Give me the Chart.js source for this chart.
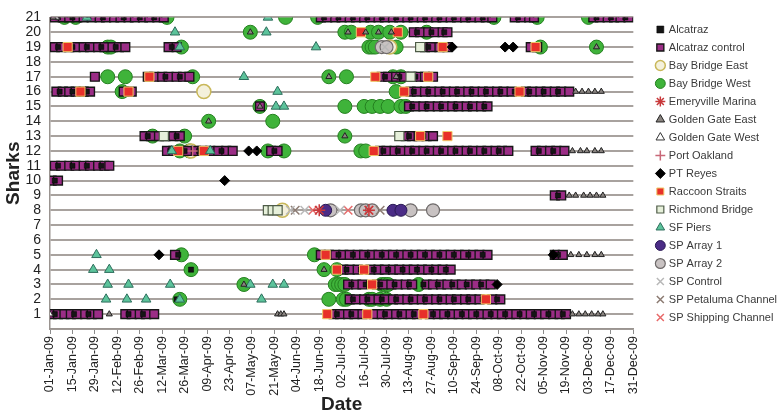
<!DOCTYPE html>
<html><head><meta charset="utf-8">
<script src="https://cdn.jsdelivr.net/npm/chart.js@4/dist/chart.umd.min.js"></script>
<style>html,body{margin:0;padding:0;background:#fff}#wrap{width:784px;height:414px}</style>
</head><body><div id="wrap"><canvas id="c"></canvas></div>
<script>
// Tick labels (x axis every 14 days starting 01-Jan-09 = day 0)
const tickDates = ['01-Jan-09','15-Jan-09','29-Jan-09','12-Feb-09','26-Feb-09','12-Mar-09','26-Mar-09','09-Apr-09','23-Apr-09','07-May-09','21-May-09','04-Jun-09','18-Jun-09','02-Jul-09','16-Jul-09','30-Jul-09','13-Aug-09','27-Aug-09','10-Sep-09','24-Sep-09','08-Oct-09','22-Oct-09','05-Nov-09','19-Nov-09','03-Dec-09','17-Dec-09','31-Dec-09'];
const sharks = [1,2,3,4,5,6,7,8,9,10,11,12,13,14,15,16,17,18,19,20,21];

// Detections: [shark, [day of year, ...]]
const alcatraz = [
  [21,[5,14,24,33,46,56,65,171,180,189,198,207,216,225,234,243,252,261,270,292,341,350,359]],
  [20,[229,238,246]],
  [19,[5,14,23,32,41,76,236,245,302]],
  [17,[63,72,81,209,218,228,237]],
  [16,[6,14,23,227,236,245,254,263,272,281,290,299,308,317]],
  [15,[226,235,244,253,262,271]],
  [13,[61,70,79,224,233]],
  [12,[75,84,93,107,140,208,217,226,235,244,253,262,271,280,305,314]],
  [11,[5,14,23,32]],
  [10,[3]],
  [9,[317]],
  [5,[80,171,180,189,198,207,216,225,234,243,252,261,270,317]],
  [4,[88,185,194,202,211,220,229,238,247]],
  [3,[188,197,206,215,224,233,242,251,260,269]],
  [2,[79,189,198,207,216,225,234,243,252,261,270,279]],
  [1,[3,15,24,49,58,179,188,197,209,218,227,239,248,257,266,275,284,293,302,311,320]]
];
const alcatrazControl = [
  [21,[3,8,12,17,21,26,31,35,40,44,49,53,58,62,67,71,169,173,178,182,187,191,196,200,205,209,214,218,223,227,232,236,241,245,250,254,259,263,268,272,276,290,294,299,302,339,343,348,352,356,361]],
  [20,[227,231,236,240,245,248]],
  [19,[3,7,12,16,21,25,30,34,39,43,47,74,79,234,238,243,248,300,304]],
  [17,[28,61,65,70,74,79,83,87,207,211,216,221,226,230,234,239]],
  [16,[4,8,12,16,21,25,46,51,225,229,234,238,243,247,252,256,261,265,270,274,279,283,288,297,301,306,310,315,319,324]],
  [15,[131,224,228,233,237,242,246,251,255,260,264,269,273]],
  [13,[59,63,68,72,77,81,222,226,230,235,239]],
  [12,[73,77,82,86,91,95,100,105,110,114,138,142,206,210,215,219,224,228,233,237,242,246,251,255,260,264,269,273,278,282,286,303,307,312,316,321]],
  [11,[3,7,12,16,21,25,30,34,37]],
  [10,[1,5]],
  [9,[315,319]],
  [5,[78,169,174,178,183,187,192,196,201,205,210,214,219,223,228,232,237,241,246,250,255,259,264,268,273,315,320]],
  [4,[183,187,192,200,205,209,214,218,223,227,232,236,241,245,250]],
  [3,[186,191,195,204,208,213,217,222,226,235,239,244,248,253,257,262,266,271,275]],
  [2,[187,191,196,200,205,209,214,218,223,227,232,236,241,245,250,254,259,263,268,276,281]],
  [1,[1,5,9,13,17,22,26,30,47,51,56,60,65,177,181,186,190,195,202,207,211,216,220,225,229,237,242,246,251,255,260,264,269,273,278,282,287,291,296,300,305,309,314,318,322]]
];
const bayBridgeEast = [[16,[96]],[12,[88]],[8,[145]],[19,[212]]];
const bayBridgeWest = [
  [21,[9,16,73,147,167,277,304,336]],
  [20,[125,184,188,200,205,212,219,235]],
  [19,[36,38,82,199,201,203,216,306,341]],
  [17,[36,47,89,174,185,214,219]],
  [16,[45,216]],
  [15,[131,184,196,201,206,211,219,222]],
  [14,[99,139]],
  [13,[64,84,184]],
  [12,[81,87,136,146,194,197]],
  [5,[82,165]],
  [4,[88,171,179]],
  [3,[121,178,180,182,184,207,209,211,230]],
  [2,[81,174,183,185,199,201,206,210]]
];
const emeryvilleMarina = [[8,[168,199]]];
const goldenGateEast = [
  [21,[2]],[20,[125,186,197,205,213]],[19,[341]],[17,[174,216]],[16,[328,332,336,340,344]],
  [15,[131]],[14,[99]],[13,[184]],[12,[326,331,335,340,344]],[9,[324,328,333,337,341,345]],
  [5,[325,330,335,340,344]],[4,[171]],[3,[121]],[1,[37,142,144,146,326,330,334,338,342,345]]
];
const goldenGateWest = [[21,[4]],[1,[0]]];
const portOakland = [[12,[89]]];
const ptReyes = [[19,[251,284,289]],[12,[124,129]],[10,[109]],[5,[68,314]],[3,[279]]];
const raccoonStraits = [
  [20,[194,217]],[19,[11,245,303]],[17,[62,203,236]],[16,[19,49,221,293]],[13,[231,248]],
  [12,[80,96,202]],[5,[172]],[4,[179,196]],[3,[201]],[2,[272]],[1,[173,198,233]]
];
const richmondBridge = [[19,[231]],[17,[225]],[13,[71,218]],[8,[136,139,142]]];
const sfPiers = [
  [21,[23,136]],[20,[78,135]],[19,[81,166]],[17,[121]],[16,[142]],[15,[141,146]],[12,[76,100]],
  [5,[29]],[4,[27,37]],[3,[36,49,75,125,139,146]],[2,[35,48,60,81,132]]
];
const spArray1 = [[8,[172,214,219]]];
const spArray2 = [[8,[175,194,197,201,225,239]],[19,[207,210]]];
const spControl = [[8,[150,159,181]],[19,[209]]];
const spPetaluma = [[8,[153,206]]];
const spShipping = [[8,[164,186,199]]];

const pts = arr => arr.flatMap(([s, days]) => days.map(d => ({x: d, y: s})));

function ds(label, data, style, order) {
  return Object.assign({label, data: pts(data), showLine: false, order, yAxisID: 'y', xAxisID: 'x'}, style);
}

const datasets = [
  ds('Alcatraz', alcatraz, {pointStyle:'rect', pointRadius:3.6, backgroundColor:'#151515', borderColor:'#000', borderWidth:0.5}, 7),
  ds('Alcatraz control', alcatrazControl, {pointStyle:'rect', pointRadius:6.2, backgroundColor:'#9b2d86', borderColor:'#161616', borderWidth:1.4}, 8),
  ds('Bay Bridge East', bayBridgeEast, {pointStyle:'circle', pointRadius:7, backgroundColor:'#f4f1dc', borderColor:'#c9b85a', borderWidth:1.5}, 9),
  ds('Bay Bridge West', bayBridgeWest, {pointStyle:'circle', pointRadius:7, backgroundColor:'#3fb33a', borderColor:'#24801f', borderWidth:1}, 10),
  ds('Emeryville Marina', emeryvilleMarina, {pointStyle:'star', pointRadius:6, backgroundColor:'#c8383a', borderColor:'#c8383a', borderWidth:1.5}, 4),
  ds('Golden Gate East', goldenGateEast, {pointStyle:'triangle', pointRadius:3.5, backgroundColor:'#8a8480', borderColor:'#222', borderWidth:1}, 1),
  ds('Golden Gate West', goldenGateWest, {pointStyle:'triangle', pointRadius:3.5, backgroundColor:'#ffffff', borderColor:'#333', borderWidth:1}, 1),
  ds('Port Oakland', portOakland, {pointStyle:'cross', pointRadius:5, backgroundColor:'#c86878', borderColor:'#c86878', borderWidth:1.5}, 4),
  ds('PT Reyes', ptReyes, {pointStyle:'rectRot', pointRadius:5, backgroundColor:'#000', borderColor:'#000', borderWidth:1}, 1),
  ds('Raccoon Straits', raccoonStraits, {pointStyle:'rect', pointRadius:6.5, backgroundColor:'#e8302a', borderColor:'#f0c868', borderWidth:1}, 3),
  ds('Richmond Bridge', richmondBridge, {pointStyle:'rect', pointRadius:6.5, backgroundColor:'#e6f0da', borderColor:'#4e5c48', borderWidth:1.2}, 3),
  ds('SF Piers', sfPiers, {pointStyle:'triangle', pointRadius:5.5, backgroundColor:'#5cc39b', borderColor:'#2d6e5c', borderWidth:1}, 2),
  ds('SP Array 1', spArray1, {pointStyle:'circle', pointRadius:6, backgroundColor:'#4b2c86', borderColor:'#2a1a55', borderWidth:1}, 6),
  ds('SP Array 2', spArray2, {pointStyle:'circle', pointRadius:6.5, backgroundColor:'#c8c2c2', borderColor:'#6e6a6a', borderWidth:1.2}, 6),
  ds('SP Control', spControl, {pointStyle:'crossRot', pointRadius:6, backgroundColor:'#b8b8b8', borderColor:'#b8b8b8', borderWidth:1.5}, 5),
  ds('SP Petaluma Channel', spPetaluma, {pointStyle:'crossRot', pointRadius:6, backgroundColor:'#8c7b72', borderColor:'#8c7b72', borderWidth:1.5}, 5),
  ds('SP Shipping Channel', spShipping, {pointStyle:'crossRot', pointRadius:6, backgroundColor:'#e86a6a', borderColor:'#e86a6a', borderWidth:1.5}, 5)
];

const FONT = "'Liberation Sans', Arial, sans-serif";
new Chart(document.getElementById('c'), {
  type: 'scatter',
  data: {datasets},
  options: {
    responsive: true, maintainAspectRatio: false, animation: false,
    layout: {padding: {top: 17, left: 2, right: 4, bottom: 0}},
    plugins: {
      tooltip: {enabled: false},
      legend: {
        position: 'right', align: 'start',
        labels: {usePointStyle: true, boxWidth: 6, boxHeight: 7, padding: 7, color: '#3a3a3a', font: {size: 11, family: FONT},
          sort: (a, b) => a.datasetIndex - b.datasetIndex}
      }
    },
    scales: {
      x: {
        type: 'linear', min: 0, max: 364,
        grid: {drawOnChartArea: false, drawTicks: true, tickLength: 5, color: '#8c8c8c'},
        border: {display: true, color: '#9a9490', width: 1.5},
        ticks: {stepSize: 14, autoSkip: false, maxRotation: 90, minRotation: 90, padding: 2, color: '#222', font: {size: 12.5, family: FONT},
          callback: v => tickDates[Math.round(v / 14)]},
        title: {display: true, text: 'Date', color: '#222', font: {size: 19, weight: 'bold', family: FONT}, padding: {top: 0, bottom: -2}},
        afterFit: s => { s.height = 85; }
      },
      y: {
        type: 'linear', min: 0, max: 21, position: 'left',
        grid: {drawTicks: false, color: '#a8a29e', lineWidth: 2},
        border: {display: true, color: '#9a9490', width: 1.5},
        ticks: {stepSize: 1, autoSkip: false, padding: 9, color: '#222', font: {size: 14, family: FONT},
          callback: v => sharks.includes(v) ? String(v) : ''},
        title: {display: true, text: 'Sharks', color: '#222', font: {size: 19, weight: 'bold', family: FONT}, padding: {top: 0, bottom: 0}},
        afterFit: s => { s.width = 48; }
      },
      gap: {
        type: 'linear', position: 'right', min: 0, max: 1, display: true,
        grid: {display: false, drawTicks: false}, border: {display: false}, ticks: {display: false},
        afterFit: s => { s.width = 17; }
      }
    }
  }
});
</script></body></html>
